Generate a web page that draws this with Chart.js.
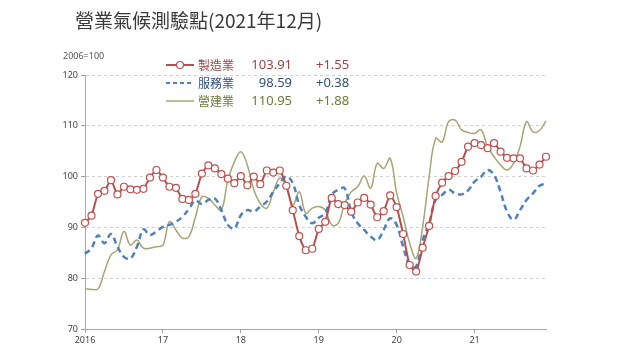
<!DOCTYPE html>
<html>
<head>
<meta charset="utf-8">
<script src="https://cdn.jsdelivr.net/npm/chart.js@4.4.1/dist/chart.umd.min.js"></script>
<style>
  html, body { margin: 0; padding: 0; background: #fff; }
  #wrap { position: relative; width: 640px; height: 360px; }
  #title { position: absolute; left: 75px; top: 6px; font: 19px "Noto Sans CJK TC", sans-serif; color: #3a3a3a; white-space: nowrap; }
  #unit { position: absolute; left: 63px; top: 49px; font: 9px "Noto Sans", sans-serif; color: #555; }
</style>
</head>
<body>
<div id="wrap">
  <canvas id="chart" width="640" height="360"></canvas>
  <div id="title">營業氣候測驗點(2021年12月)</div>
  <div id="unit">2006=100</div>
</div>
<script>
// years on the x axis, 12 monthly points per year
const yearTicks = ['2016', '17', '18', '19', '20', '21'];
const yTicks = [70, 80, 90, 100, 110, 120];

// 製造業
const mfgValues = [
    90.9, 92.3, 96.6, 97.2, 99.3, 96.5, 98.0, 97.5, 97.4, 97.6, 99.8, 101.3,
    99.8, 98.0, 97.8, 95.6, 95.4, 96.6, 100.6, 102.2, 101.6, 100.5, 99.6, 98.7,
    100.1, 98.3, 100.0, 98.5, 101.2, 100.8, 101.2, 98.2, 93.4, 88.3, 85.5, 85.8,
    89.7, 91.1, 95.8, 94.6, 94.4, 93.1, 94.9, 95.8, 94.5, 92.0, 93.2, 96.3,
    94.0, 88.7, 82.6, 81.3, 86.0, 90.3, 96.2, 98.8, 100.1, 101.1, 102.9, 105.9,
    106.6, 106.2, 105.6, 106.6, 104.9, 103.7, 103.6, 103.6, 101.6, 101.2, 102.36, 103.91,
];
// 服務業
const svcValues = [
    84.8, 85.9, 88.4, 86.9, 88.7, 86.2, 84.2, 83.9, 86.2, 89.6, 88.5, 89.2,
    90.1, 90.5, 91.1, 92.1, 93.6, 95.3, 94.6, 95.4, 95.7, 93.4, 90.5, 89.8,
    92.4, 93.4, 93.1, 94.1, 95.1, 97.0, 98.7, 100.0, 98.7, 94.4, 92.1, 90.8,
    91.9, 92.8, 96.4, 97.4, 97.7, 93.1, 90.8, 89.5, 88.2, 87.5, 89.5, 91.8,
    90.5, 86.2, 82.6, 82.3, 87.5, 90.8, 95.4, 96.4, 97.4, 96.7, 96.5, 97.3,
    99.0, 100.0, 101.3, 100.3, 97.0, 93.1, 91.5, 93.4, 95.4, 96.7, 98.21, 98.59,
];
// 營建業
const conValues = [
    77.9, 77.8, 77.9, 81.3, 84.6, 85.6, 89.2, 86.5, 87.5, 85.9, 85.9, 86.2,
    86.5, 91.1, 89.5, 87.9, 88.2, 92.0, 96.0, 95.7, 94.4, 93.4, 99.3, 102.9,
    104.9, 102.3, 97.4, 94.7, 93.8, 97.0, 99.7, 98.3, 94.4, 97.0, 92.8, 93.8,
    94.1, 93.4, 90.5, 90.8, 94.7, 97.0, 98.0, 100.1, 97.7, 102.6, 101.6, 103.6,
    96.8, 92.1, 86.9, 83.9, 90.1, 100.0, 107.5, 106.8, 110.8, 111.1, 109.2, 108.7,
    108.5, 109.2, 105.9, 103.9, 102.3, 101.3, 102.6, 105.9, 110.8, 108.8, 109.07, 110.95,
];

const seriesNames = ['製造業', '服務業', '營建業'];
const latestValues = ['103.91', '98.59', '110.95'];
const latestChanges = ['+1.55', '+0.38', '+1.88'];

const labels = [];
yearTicks.forEach((y) => {
    for (let m = 1; m <= 12; m++) labels.push(m === 1 ? y : '');
});

const lineColors = ['#b5504e', '#4f81bd', '#a4a677'];
const textColors = ['#9e4446', '#2f4f7c', '#6c7a3c'];

const legendPlugin = {
    id: 'sideLegend',
    afterDraw(chart) {
        const ctx = chart.ctx;
        const rows = [65, 83, 101];
        ctx.save();
        rows.forEach((y, i) => {
            ctx.strokeStyle = lineColors[i];
            ctx.lineWidth = i === 2 ? 1.5 : 2;
            ctx.setLineDash(i === 1 ? [4, 3] : []);
            ctx.beginPath();
            ctx.moveTo(166, y);
            ctx.lineTo(194, y);
            ctx.stroke();
            ctx.setLineDash([]);
            if (i === 0) {
                ctx.beginPath();
                ctx.arc(180, y, 3.5, 0, Math.PI * 2);
                ctx.fillStyle = '#fff';
                ctx.fill();
                ctx.lineWidth = 1.2;
                ctx.strokeStyle = '#c0504d';
                ctx.stroke();
            }
            ctx.fillStyle = textColors[i];
            ctx.textBaseline = 'middle';
            ctx.font = '12px "Noto Sans CJK TC", sans-serif';
            ctx.textAlign = 'left';
            ctx.fillText(seriesNames[i], 198, y);
            ctx.font = '13px "Noto Sans", sans-serif';
            ctx.textAlign = 'right';
            ctx.fillText(latestValues[i], 292, y);
            ctx.textAlign = 'left';
            ctx.fillText(latestChanges[i], 316, y);
        });
        ctx.restore();
    },
};

new Chart(document.getElementById('chart'), {
    type: 'line',
    data: {
        labels: labels,
        datasets: [
            {
                label: seriesNames[0],
                data: mfgValues,
                borderColor: lineColors[0],
                borderWidth: 2,
                tension: 0.2,
                pointRadius: 3.5,
                pointBackgroundColor: '#fff',
                pointBorderColor: '#c0504d',
                pointBorderWidth: 1.2,
            },
            {
                label: seriesNames[1],
                data: svcValues,
                borderColor: lineColors[1],
                borderWidth: 2.5,
                borderDash: [6, 4],
                tension: 0.4,
                pointRadius: 0,
            },
            {
                label: seriesNames[2],
                data: conValues,
                borderColor: lineColors[2],
                borderWidth: 1.5,
                tension: 0.4,
                pointRadius: 0,
            },
        ],
    },
    options: {
        responsive: false,
        animation: false,
        layout: { padding: { left: 58, right: 94, top: 75, bottom: 0 } },
        plugins: { legend: { display: false }, tooltip: { enabled: false } },
        scales: {
            x: {
                afterFit: (s) => { s.height = 31; },
                grid: {
                    drawOnChartArea: false,
                    drawTicks: true,
                    tickLength: 4,
                    color: (c) => (c.index % 12 === 0 ? '#a0a0a0' : 'rgba(0,0,0,0)'),
                },
                border: { color: '#a8a8a8' },
                ticks: {
                    autoSkip: false,
                    maxRotation: 0,
                    padding: 2,
                    color: '#444',
                    font: { family: 'Noto Sans', size: 9 },
                },
            },
            y: {
                min: yTicks[0],
                max: yTicks[yTicks.length - 1],
                afterFit: (s) => { s.width = 27; },
                afterBuildTicks: (s) => { s.ticks = yTicks.map((v) => ({ value: v })); },
                grid: {
                    color: (c) => (c.tick && c.tick.value === 70 ? 'rgba(0,0,0,0)' : '#d0d0d0'),
                    tickColor: '#a0a0a0',
                    tickLength: 4,
                    tickBorderDash: [],
                },
                border: { color: '#a8a8a8', dash: [3, 3] },
                ticks: {
                    padding: 3,
                    color: '#444',
                    font: { family: 'Noto Sans', size: 9 },
                },
            },
        },
    },
    plugins: [legendPlugin],
});
</script>
</body>
</html>
